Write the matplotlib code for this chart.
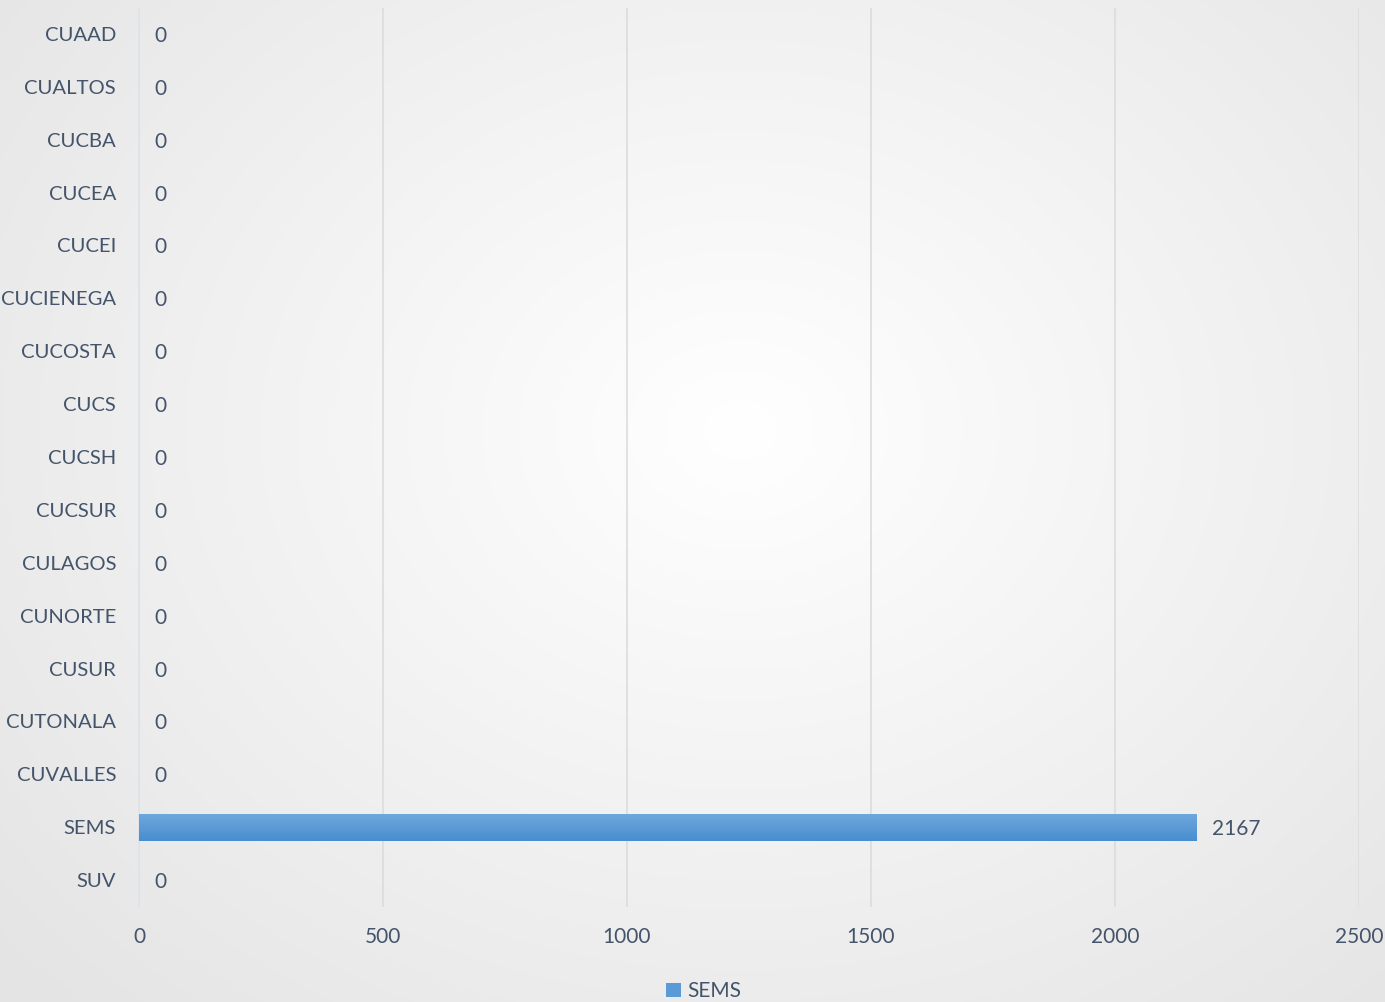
import numpy as np
import matplotlib.pyplot as plt

# Data
categories = ['CUAAD', 'CUALTOS', 'CUCBA', 'CUCEA', 'CUCEI', 'CUCIENEGA', 'CUCOSTA',
              'CUCS', 'CUCSH', 'CUCSUR', 'CULAGOS', 'CUNORTE', 'CUSUR', 'CUTONALA',
              'CUVALLES', 'SEMS', 'SUV']
sems_values = [0, 0, 0, 0, 0, 0, 0, 0, 0, 0, 0, 0, 0, 0, 0, 2167, 0]
xticks = [0, 500, 1000, 1500, 2000, 2500]

text_color = '#44546a'
plt.rcParams['font.family'] = ['Lato', 'DejaVu Sans']

fig = plt.figure(figsize=(13.85, 10.02), dpi=100)

# radial gradient background
bg = fig.add_axes([0, 0, 1, 1], zorder=-10)
yy, xx = np.mgrid[0:1002, 0:1385]
r = np.sqrt(((xx - 740) / 800.0) ** 2 + ((yy - 430) / 650.0) ** 2)
shade = 1.0 - 0.085 * np.clip(r, 0, 1.2)
bg.imshow(np.dstack([shade, shade, shade]), aspect='auto', extent=[0, 1, 0, 1])
bg.axis('off')

ax = fig.add_axes([139 / 1385, 1 - 906.5 / 1002, 1220 / 1385, 899 / 1002])
ax.patch.set_alpha(0)

y = np.arange(len(categories))
bars = ax.barh(y, sems_values, height=0.51, color='#5b9bd5', label='SEMS', zorder=3)

# vertical gradient on the bars
grad = np.linspace(0, 1, 50).reshape(-1, 1)
top_c = np.array([0x6e, 0xa7, 0xdd]) / 255
bot_c = np.array([0x48, 0x8e, 0xcf]) / 255
img = top_c + (bot_c - top_c) * grad[:, :, None]
for b in bars:
    if b.get_width() > 0:
        x0, y0 = b.get_x(), b.get_y()
        im = ax.imshow(img, extent=[x0, x0 + b.get_width(), y0 + b.get_height(), y0],
                       aspect='auto', zorder=4)
        im.set_clip_path(b)

for yi, v in zip(y, sems_values):
    ax.annotate(str(v), (v, yi), xytext=(11, 0), textcoords='offset points',
                va='center_baseline', ha='left', fontsize=15, color=text_color)

ax.set_xlim(0, 2500)
ax.set_ylim(len(categories) - 0.5, -0.5)
ax.set_xticks(xticks)
ax.set_yticks(y)
ax.set_yticklabels(categories)
ax.tick_params(axis='both', length=0, labelsize=15, labelcolor=text_color)
ax.tick_params(axis='y', pad=16.5, labelsize=14.6)
ax.tick_params(axis='x', pad=15)
ax.grid(axis='x', color='#dcdcdc', linewidth=1.2, zorder=0)
ax.set_axisbelow(True)
for s in ['top', 'right', 'bottom']:
    ax.spines[s].set_visible(False)
ax.spines['left'].set_color('#dde3ea')
ax.spines['left'].set_linewidth(1.2)

fig.legend(loc='lower center', bbox_to_anchor=(0.508, -0.018), frameon=False,
           fontsize=15, labelcolor=text_color, handlelength=0.7, handleheight=0.7,
           handletextpad=0.3)

fig.savefig('out.png', dpi=100)
